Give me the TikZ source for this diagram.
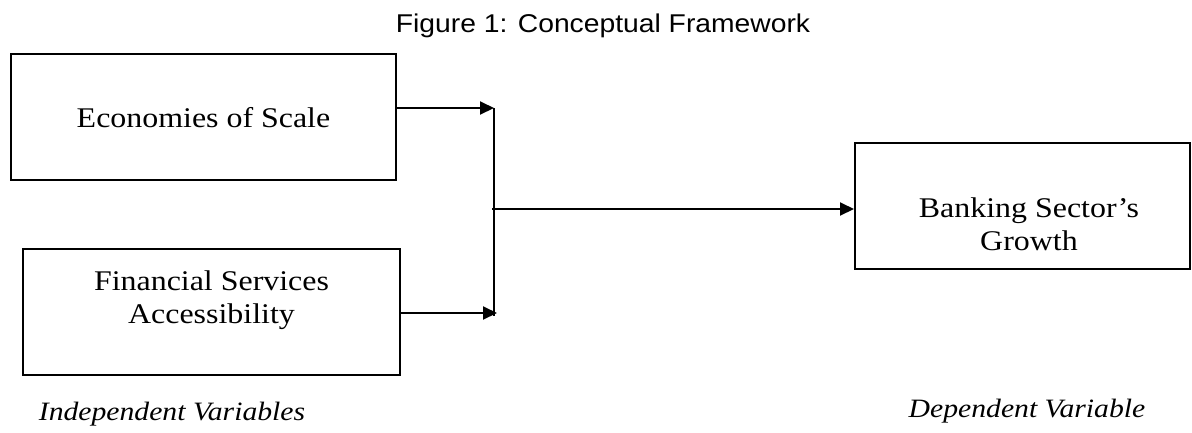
\documentclass[tikz,border=0pt]{standalone}
\usepackage{fontspec}
\setmainfont{Liberation Serif}[FakeStretch=1.12]
\newfontfamily\titlefont{Liberation Sans}[FakeStretch=1.1]
\usetikzlibrary{arrows.meta}
\begin{document}
\begin{tikzpicture}[x=1pt,y=-1pt,
  box/.style={draw,line width=2pt,inner sep=0pt},
  txt/.style={font=\fontsize{28.5}{33}\selectfont,align=center,inner sep=0pt},
  lab/.style={font=\fontsize{26.5}{33}\selectfont\itshape,inner sep=0pt},
  conn/.style={line width=2pt},
  arr/.style={conn,-{Triangle[length=14pt,width=13pt]}}]
\useasboundingbox (0,0) rectangle (1192,432);
\node[font=\titlefont\fontsize{25.7}{30}\selectfont,inner sep=0pt,anchor=base] (title) at (603,32) {Figure 1: Conceptual Framework};
% boxes
\node[box,minimum width=385pt,minimum height=126pt] (b1) at (203.5,117) {};
\node[box,minimum width=377pt,minimum height=126pt] (b2) at (211.5,312) {};
\node[box,minimum width=335pt,minimum height=126pt] (b3) at (1022.5,206) {};
% texts
\node[txt,anchor=base] (t1) at (203.5,127) {Economies of Scale};
\node[txt,anchor=base] (t2) at (211.5,323) {Financial Services\\Accessibility};
\node[txt,anchor=base] (t3) at (1029,250) {Banking Sector’s\\Growth};
\node[lab,anchor=base] (l1) at (172,420) {Independent Variables};
\node[lab,anchor=base] (l2) at (1027,417) {Dependent Variable};
% connectors
\coordinate (j1) at (494,108);
\coordinate (j2) at (494,313);
\coordinate (jm) at (492,209);
\draw[arr] (b1.east |- j1) -- (j1);
\draw[arr] (b2.east |- j2) -- ([xshift=3pt]j2);
\draw[conn] (j1) -- (494,316);
\draw[arr] (jm) -- (b3.west |- jm);
\end{tikzpicture}
\end{document}
